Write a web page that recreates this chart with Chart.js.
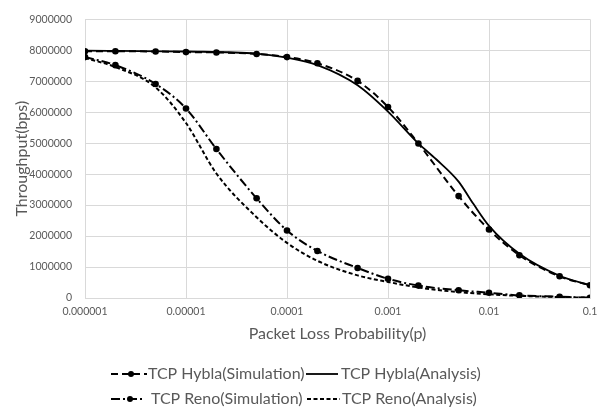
<!DOCTYPE html>
<html>
<head>
<meta charset="utf-8">
<script src="https://cdn.jsdelivr.net/npm/chart.js@4/dist/chart.umd.min.js"></script>
<style>
  html, body { margin: 0; padding: 0; background: #ffffff; }
  #wrap { width: 607px; height: 412px; }
</style>
</head>
<body>
<div id="wrap"><canvas id="tput-chart" width="607" height="412"></canvas></div>
<script>
// packet loss probabilities used for the simulation runs
const lossRates = [1e-6, 2e-6, 5e-6, 1e-5, 2e-5, 5e-5, 1e-4, 2e-4, 5e-4, 1e-3, 2e-3, 5e-3, 1e-2, 2e-2, 5e-2, 1e-1];
const hyblaSim = [7970000, 7970000, 7960000, 7940000, 7930000, 7880000, 7780000, 7580000, 7010000, 6170000, 4990000, 3290000, 2210000, 1380000, 700000, 410000];
const renoSim = [7780000, 7520000, 6910000, 6120000, 4810000, 3220000, 2180000, 1520000, 970000, 620000, 400000, 250000, 170000, 85000, 40000, 10000];

// analytical model curves
const hyblaAnaLoss = [1e-6, 1e-5, 5e-5, 1e-4, 2e-4, 5e-4, 1e-3, 2e-3, 3e-3, 5e-3, 7e-3, 1e-2, 2e-2, 5e-2, 1e-1];
const hyblaAna = [7990000, 7960000, 7890000, 7760000, 7520000, 6870000, 6020000, 4990000, 4480000, 3760000, 3040000, 2330000, 1430000, 720000, 410000];
const renoAnaLoss = [1e-6, 2e-6, 5e-6, 1e-5, 2e-5, 5e-5, 1e-4, 2e-4, 5e-4, 1e-3, 2e-3, 5e-3, 1e-2, 2e-2, 5e-2, 1e-1];
const renoAna = [7750000, 7460000, 6800000, 5650000, 4020000, 2610000, 1780000, 1200000, 730000, 520000, 340000, 190000, 120000, 70000, 30000, 10000];

const seriesNames = ["TCP Hybla(Simulation)", "TCP Hybla(Analysis)", "TCP Reno(Simulation)", "TCP Reno(Analysis)"];

const xTickValues = [1e-6, 1e-5, 1e-4, 1e-3, 1e-2, 1e-1];
const xTickLabels = ["0.000001", "0.00001", "0.0001", "0.001", "0.01", "0.1"];

const textColor = "#595959";
const gridColor = "#d9d9d9";
const fontFamily = "Lato, 'Liberation Sans', sans-serif";

function toPoints(xs, ys) {
    return xs.map((x, i) => ({ x: x, y: ys[i] }));
}

// legend laid out in two rows of two, like the spreadsheet version
const legendSlots = [
    { ds: 0, x0: 111, x1: 147, mx: 131, tx: 148, y: 374 },
    { ds: 1, x0: 306, x1: 338, mx: 0, tx: 341, y: 374 },
    { ds: 2, x0: 111, x1: 142, mx: 130, tx: 151, y: 399 },
    { ds: 3, x0: 307, x1: 340, mx: 0, tx: 342, y: 399 }
];

const bottomLegend = {
    id: "bottomLegend",
    afterDraw(chart) {
        const ctx = chart.ctx;
        ctx.save();
        legendSlots.forEach(slot => {
            const ds = chart.data.datasets[slot.ds];
            ctx.strokeStyle = ds.borderColor;
            ctx.lineWidth = ds.borderWidth;
            ctx.setLineDash(ds.borderDash || []);
            ctx.beginPath();
            ctx.moveTo(slot.x0, slot.y);
            ctx.lineTo(slot.x1, slot.y);
            ctx.stroke();
            ctx.setLineDash([]);
            if (ds.pointRadius > 0) {
                ctx.fillStyle = ds.pointBackgroundColor;
                ctx.beginPath();
                ctx.arc(slot.mx, slot.y, ds.pointRadius - 0.3, 0, Math.PI * 2);
                ctx.fill();
            }
            ctx.fillStyle = textColor;
            ctx.font = "16px " + fontFamily;
            ctx.textBaseline = "middle";
            ctx.textAlign = "left";
            ctx.fillText(ds.label, slot.tx, slot.y);
        });
        ctx.restore();
    }
};

const ctx = document.getElementById("tput-chart").getContext("2d");
new Chart(ctx, {
    type: "line",
    data: {
        datasets: [
            {
                label: seriesNames[0],
                data: toPoints(lossRates, hyblaSim),
                borderColor: "#000000",
                borderWidth: 2,
                borderDash: [7, 4],
                pointRadius: 3.3,
                pointBackgroundColor: "#000000",
                pointBorderWidth: 0,
                cubicInterpolationMode: "monotone"
            },
            {
                label: seriesNames[1],
                data: toPoints(hyblaAnaLoss, hyblaAna),
                borderColor: "#000000",
                borderWidth: 1.8,
                pointRadius: 0,
                cubicInterpolationMode: "monotone"
            },
            {
                label: seriesNames[2],
                data: toPoints(lossRates, renoSim),
                borderColor: "#000000",
                borderWidth: 2,
                borderDash: [9, 3, 2, 3],
                pointRadius: 3.3,
                pointBackgroundColor: "#000000",
                pointBorderWidth: 0,
                cubicInterpolationMode: "monotone"
            },
            {
                label: seriesNames[3],
                data: toPoints(renoAnaLoss, renoAna),
                borderColor: "#000000",
                borderWidth: 2,
                borderDash: [4, 2.5],
                pointRadius: 0,
                cubicInterpolationMode: "monotone"
            }
        ]
    },
    options: {
        responsive: false,
        animation: false,
        layout: { padding: { top: 12, right: 17, bottom: 64, left: 0 } },
        plugins: {
            legend: { display: false },
            tooltip: { enabled: false }
        },
        scales: {
            x: {
                type: "logarithmic",
                min: 1e-6,
                max: 0.1,
                afterBuildTicks: scale => {
                    scale.ticks = xTickValues.map(v => ({ value: v }));
                },
                afterFit: scale => { scale.height = 50; },
                ticks: {
                    color: textColor,
                    font: { family: fontFamily, size: 10.5 },
                    padding: 7,
                    maxRotation: 0,
                    autoSkip: false,
                    callback: (value, index) => xTickLabels[index]
                },
                grid: { color: gridColor, drawTicks: false },
                border: { color: gridColor },
                title: {
                    display: true,
                    text: "Packet Loss Probability(p)",
                    color: textColor,
                    font: { family: fontFamily, size: 16 },
                    padding: { top: 0, bottom: 5 }
                }
            },
            y: {
                min: 0,
                max: 9000000,
                afterFit: scale => { scale.width = 85; },
                ticks: {
                    stepSize: 1000000,
                    color: textColor,
                    font: { family: fontFamily, size: 10.5 },
                    padding: 13,
                    callback: value => String(value)
                },
                grid: { color: gridColor, drawTicks: false },
                border: { color: gridColor },
                title: {
                    display: true,
                    text: "Throughput(bps)",
                    color: textColor,
                    font: { family: fontFamily, size: 16 },
                    padding: { top: 12, bottom: 0 }
                }
            }
        }
    },
    plugins: [bottomLegend]
});
</script>
</body>
</html>
